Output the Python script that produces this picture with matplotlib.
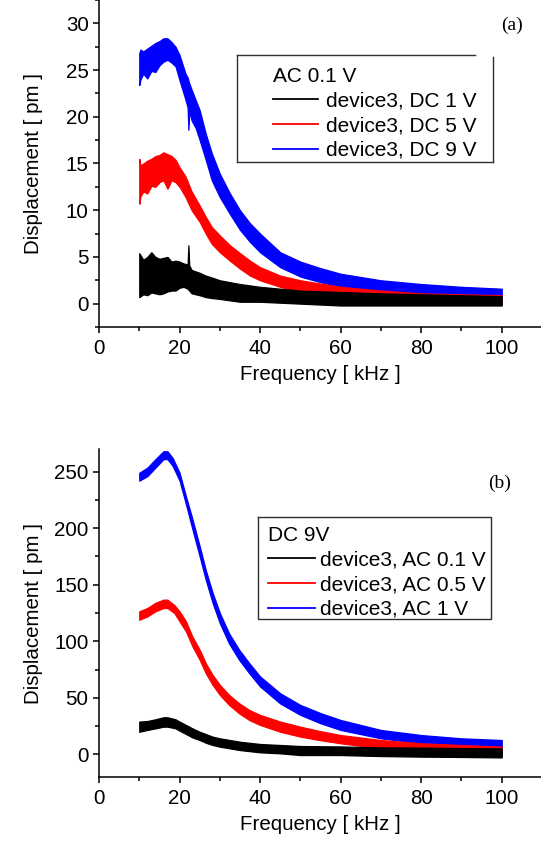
import matplotlib
matplotlib.use("Agg")
import matplotlib.pyplot as plt
from matplotlib.lines import Line2D
import numpy as np

plt.rcParams['font.family'] = ['Liberation Sans', 'DejaVu Sans']

# ---------------- Panel (a): AC 0.1 V, varying DC ----------------
fa_blue = [10, 10.3, 11, 12, 13, 14, 15, 16, 17, 18, 19, 20, 21.5, 22.0, 22.2, 22.4, 23, 24, 25, 26.5, 28, 30, 32.5, 35, 37.5, 40, 45, 50, 55, 60, 70, 80, 90, 100]
a_blue_lo = [23.4, 24.0, 24.6, 24.1, 24.9, 24.8, 25.5, 25.9, 26.1, 25.8, 25.4, 23.9, 21.8, 21.0, 18.6, 20.6, 19.6, 18.8, 17.5, 15.4, 13.2, 11.4, 9.6, 7.9, 6.6, 5.5, 3.9, 2.9, 2.3, 1.8, 1.25, 0.9, 0.7, 0.7]
a_blue_hi = [26.8, 27.2, 27.0, 27.3, 27.6, 27.9, 28.1, 28.4, 28.4, 28.0, 27.5, 26.6, 24.6, 24.2, 23.9, 23.6, 22.9, 21.8, 20.7, 18.2, 16.1, 13.9, 11.8, 10.0, 8.6, 7.5, 5.5, 4.5, 3.8, 3.2, 2.5, 2.1, 1.8, 1.6]

fa_red = [10, 10.3, 11, 12, 13, 14, 15, 16, 17, 18, 19, 20, 21.5, 23, 25, 26.5, 28, 30, 32.5, 35, 37.5, 40, 45, 50, 60, 70, 80, 90, 100]
a_red_lo = [10.7, 11.5, 12.0, 11.8, 12.6, 12.5, 13.0, 13.2, 12.3, 13.2, 13.0, 12.5, 11.4, 10.0, 8.75, 7.5, 6.4, 5.5, 4.6, 3.75, 3.0, 2.5, 1.8, 1.25, 0.7, 0.35, 0.2, 0.0, -0.1]
a_red_hi = [15.5, 14.8, 15.0, 15.3, 15.5, 15.8, 15.9, 16.2, 16.0, 15.8, 15.4, 14.6, 13.6, 12.0, 10.5, 9.3, 8.2, 7.3, 6.25, 5.4, 4.6, 3.9, 3.0, 2.5, 1.8, 1.4, 1.1, 1.0, 0.9]

fa_black = [10, 11, 12, 13, 14, 15, 16, 17, 18, 19, 20, 21, 22.0, 22.2, 22.4, 23, 25, 26.5, 28, 30, 35, 40, 45, 50, 60, 70, 80, 90, 100]
a_black_lo = [0.7, 1.0, 0.9, 1.2, 1.1, 1.0, 1.1, 1.3, 1.4, 1.4, 1.7, 1.8, 1.6, 1.5, 1.4, 1.1, 0.9, 0.7, 0.6, 0.5, 0.2, 0.2, 0.1, 0.0, -0.2, -0.2, -0.2, -0.2, -0.2]
a_black_hi = [5.4, 4.7, 5.0, 5.5, 5.0, 4.8, 4.9, 5.0, 4.5, 4.6, 4.5, 4.3, 4.2, 6.25, 4.1, 3.6, 3.3, 3.0, 2.8, 2.5, 2.1, 1.8, 1.6, 1.4, 1.25, 1.1, 1.0, 0.9, 0.8]

labels_a = ['device3, DC 1 V', 'device3, DC 5 V', 'device3, DC 9 V']
title_a = 'AC 0.1 V'

# ---------------- Panel (b): DC 9 V, varying AC ----------------
fb_blue = [10, 12, 14, 16, 17, 18.3, 20, 21.6, 23.2, 25, 26.5, 28.2, 30, 32.3, 34.8, 37.3, 40, 45, 50, 55, 60, 70, 80, 90, 100]
b_blue_lo = [242, 246, 253.5, 261, 261, 255, 242, 221, 199, 175, 154.5, 134, 116, 98, 83.6, 71.8, 60, 45, 34.9, 27.5, 21.6, 14.2, 9.8, 6.8, 5.3]
b_blue_hi = [249, 253.5, 261, 268, 268, 262, 249, 228, 208, 184, 163, 143, 125, 107, 92.5, 80.7, 68.9, 54, 43.7, 36.5, 30.4, 21.6, 17.1, 14.2, 12.7]

fb_red = [10, 12, 14, 16, 17, 18.7, 20, 21.6, 23.2, 25, 26.5, 28.2, 30, 32.3, 34.8, 37.3, 40, 45, 50, 55, 60, 70, 80, 90, 100]
b_red_lo = [119, 122, 126.5, 129.4, 129.4, 125, 117.6, 108.7, 95.5, 83.6, 71.8, 61.5, 52.6, 43.7, 36.3, 30.4, 26, 20, 15.7, 12.5, 9.8, 5.3, 2.4, 0.9, -0.6]
b_red_hi = [126.5, 129.4, 134, 136.8, 136.8, 132, 126.5, 117.6, 104, 92.5, 80.7, 70.3, 61.5, 52.6, 45.2, 39.3, 34.9, 29, 24.5, 20.5, 17.1, 12.7, 9.8, 8.3, 6.8]

fb_black = [10, 12, 14, 16, 17, 19, 20, 21.6, 23.2, 25, 26.5, 28.2, 30, 35, 40, 45, 50, 60, 70, 80, 90, 100]
b_black_lo = [20, 21.6, 23, 24.5, 24.5, 23, 21, 18, 15, 12.7, 10.3, 8.3, 6.8, 3.8, 1.8, 0.9, -0.6, -0.6, -1.5, -2.0, -2.3, -2.7]
b_black_hi = [29, 29.5, 31, 32.8, 32.8, 31, 29, 26, 23, 20, 18, 15.7, 14.2, 11.2, 9.2, 8.3, 7.4, 7.0, 6.2, 6.0, 5.6, 5.3]

labels_b = ['device3, AC 0.1 V', 'device3, AC 0.5 V', 'device3, AC 1 V']
title_b = 'DC 9V'

colors = ['black', '#ff0000', '#0000ff']

W, H = 541, 850
fig = plt.figure(figsize=(W / 100, H / 100), dpi=100)

def px_rect(l, t, r, b):
    return [l / W, 1 - b / H, (r - l) / W, (b - t) / H]

ax1 = fig.add_axes(px_rect(99, 0, 542, 327))
ax2 = fig.add_axes(px_rect(99, 449, 542, 777))

FS = 14.8

def style(ax, ylim, major, minor):
    ax.set_xlim(0, 110)
    ax.set_ylim(*ylim)
    for s in ['top', 'right']:
        ax.spines[s].set_visible(False)
    for s in ['left', 'bottom']:
        ax.spines[s].set_linewidth(1.1)
    ax.set_xticks([0, 20, 40, 60, 80, 100])
    ax.set_xticks([10, 30, 50, 70, 90], minor=True)
    ax.yaxis.set_major_locator(matplotlib.ticker.MultipleLocator(major))
    ax.yaxis.set_minor_locator(matplotlib.ticker.MultipleLocator(minor))
    ax.tick_params(which='major', direction='out', length=4.5, width=1.1, labelsize=FS, pad=3)
    ax.tick_params(which='minor', direction='out', length=2.8, width=1.1)
    ax.tick_params(axis='x', which='major', pad=4)
    ax.set_xlabel('Frequency [ kHz ]', fontsize=FS, labelpad=5)
    ax.set_ylabel('Displacement [ pm ]', fontsize=FS)
    ax.yaxis.set_label_coords(-0.127, 0.5)

def bands(ax, data):
    for (f, lo, hi), c, z in zip(data, colors, [3, 2, 1]):
        ax.fill_between(f, lo, hi, color=c, lw=0.9, edgecolor=c, zorder=z)

bands(ax1, [(fa_black, a_black_lo, a_black_hi), (fa_red, a_red_lo, a_red_hi), (fa_blue, a_blue_lo, a_blue_hi)])
bands(ax2, [(fb_black, b_black_lo, b_black_hi), (fb_red, b_red_lo, b_red_hi), (fb_blue, b_blue_lo, b_blue_hi)])

style(ax1, (-2.5, 32.5), 5, 2.5)
style(ax2, (-20, 270), 50, 25)

def make_legend(ax, labels, title, x, y, hl, htp):
    handles = [Line2D([], [], color=c, lw=1.3) for c in colors]
    leg = ax.legend(handles, labels, title=title, loc='upper left',
                    bbox_to_anchor=(x / W, 1 - y / H), bbox_transform=fig.transFigure,
                    frameon=False, fontsize=15, title_fontsize=15,
                    alignment='left', borderpad=0, borderaxespad=0,
                    handlelength=hl, handletextpad=htp, labelspacing=0.27)
    return leg

make_legend(ax1, labels_a, title_a, 273, 67, 2.16, 0.38)
make_legend(ax2, labels_b, title_b, 268, 526, 2.26, 0.26)

def fline(xs, ys, **kw):
    fig.add_artist(Line2D([x / W for x in xs], [1 - y / H for y in ys],
                          transform=fig.transFigure, color='#303030', lw=1.0, **kw))

# legend frame (a) - as in the original with its open top-right corner
fline([237, 475], [55, 55])
fline([493, 493], [57, 162])
fline([237, 493], [162, 162])
fline([237, 237], [55, 162])
# legend frame (b)
fline([258, 491, 491, 258, 258], [517, 517, 619, 619, 517])

fig.text(512 / W, 1 - 25 / H, '(a)', family='Liberation Serif', fontsize=14, ha='center', va='center')
fig.text(500 / W, 1 - 483 / H, '(b)', family='Liberation Serif', fontsize=14, ha='center', va='center')

fig.savefig('out.png', dpi=100)
